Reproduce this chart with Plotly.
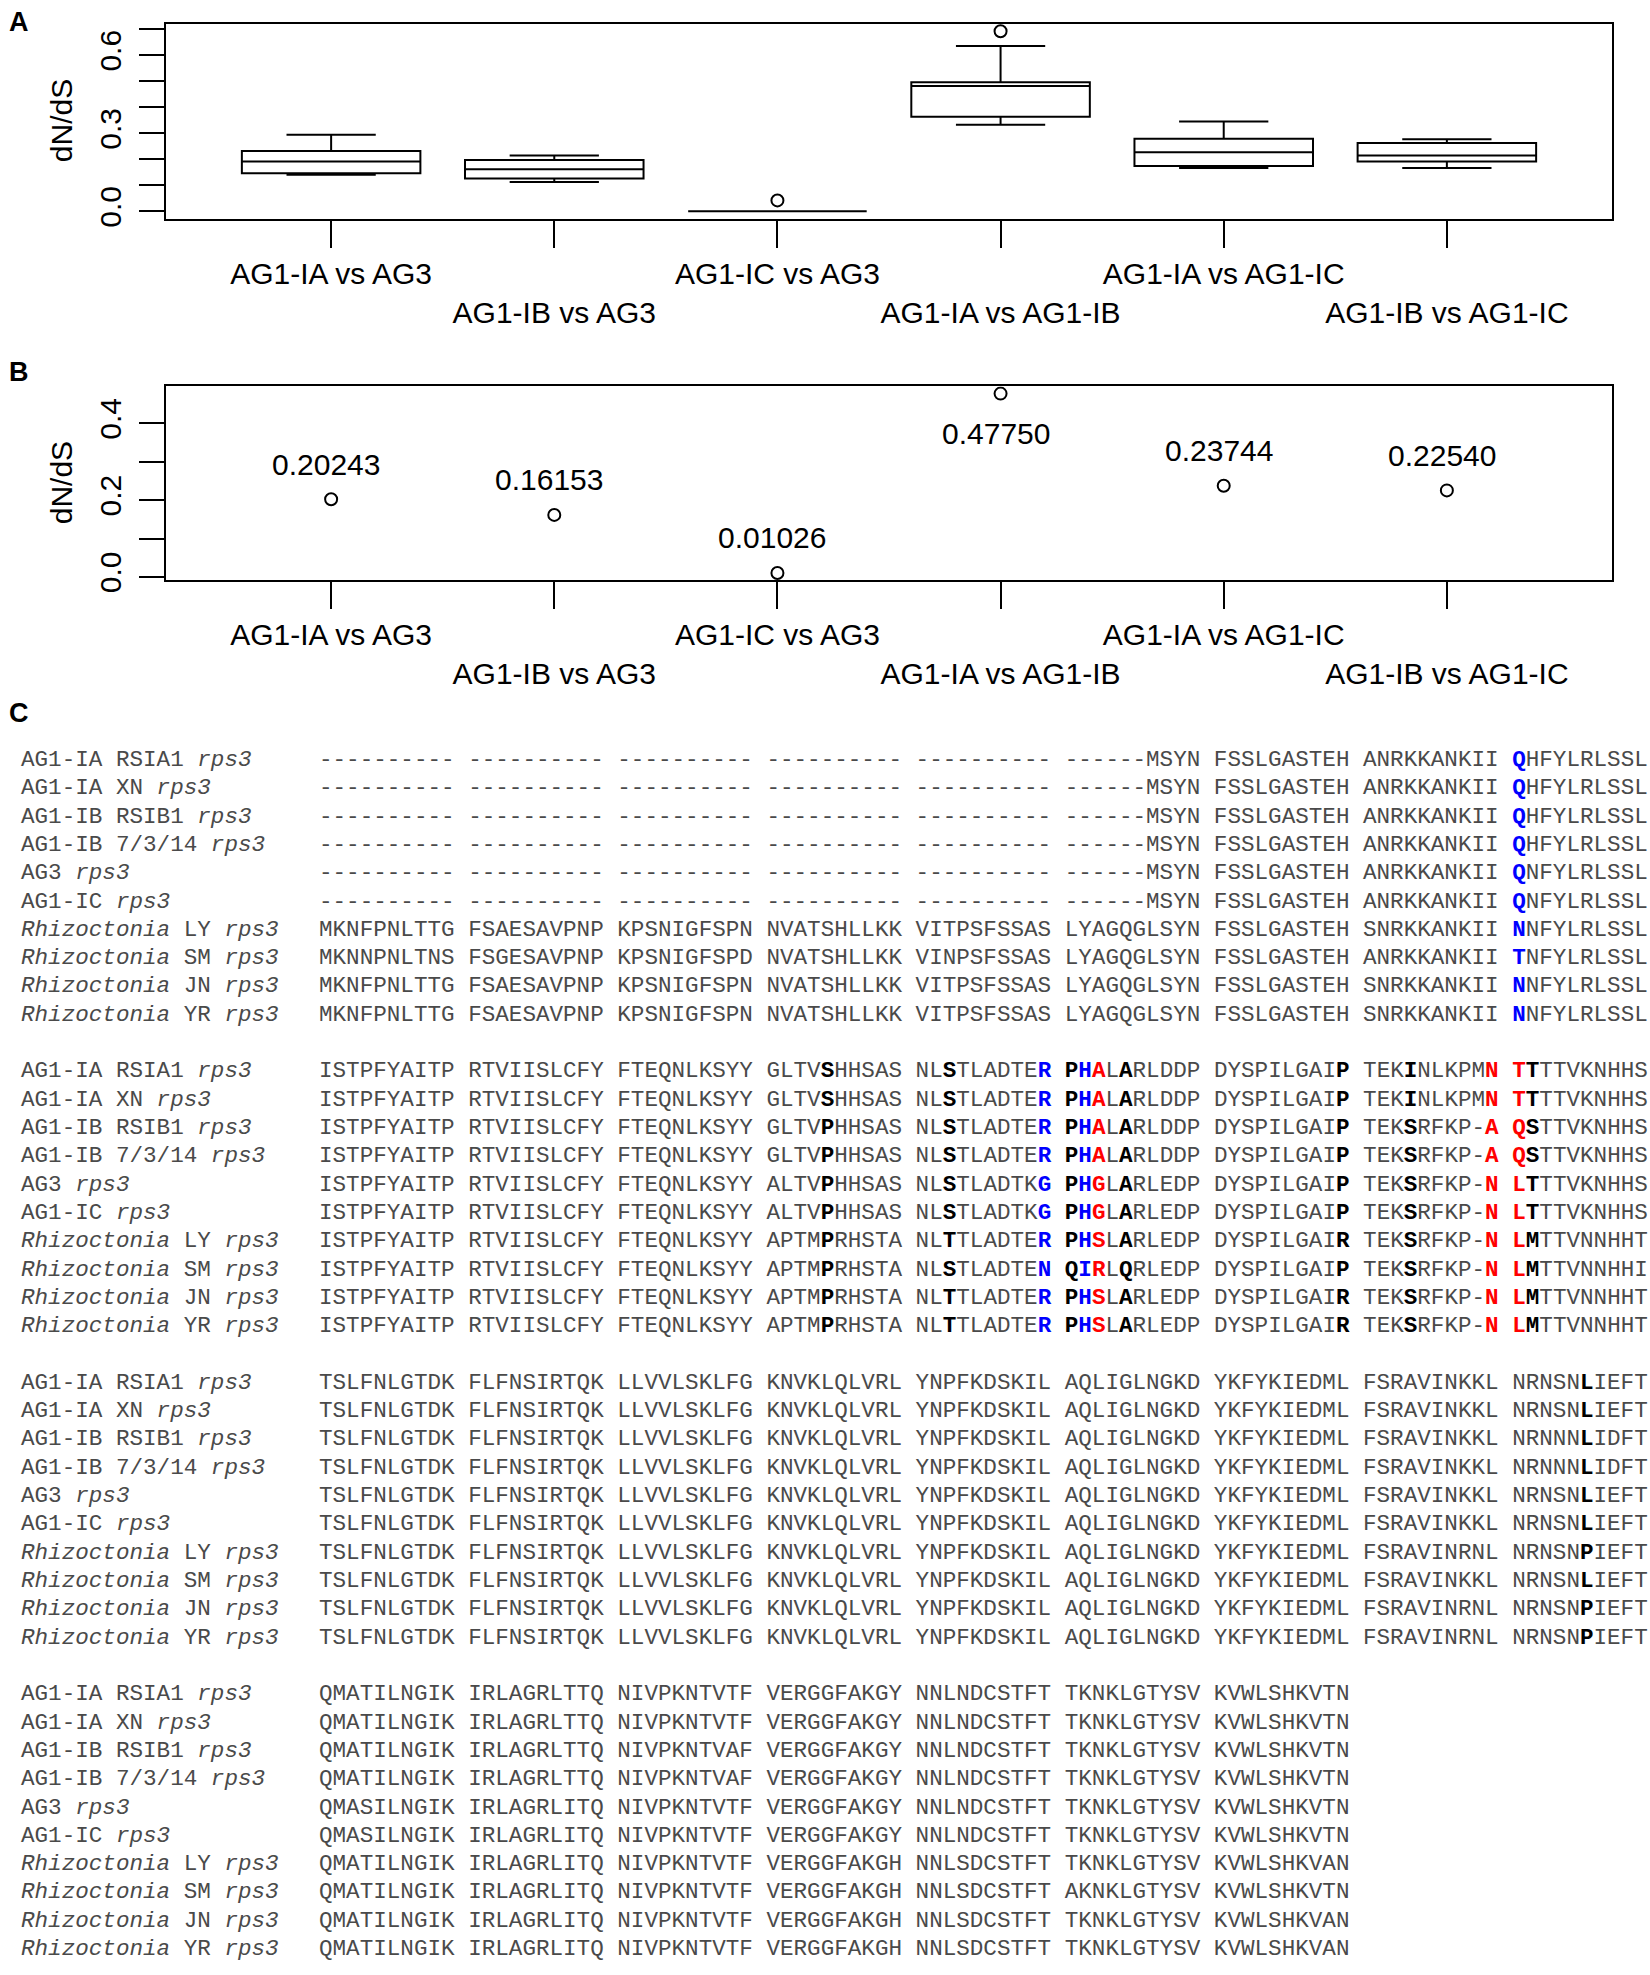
import plotly.graph_objects as go

W, H = 1650, 1975

# ---- panels A / B data -------------------------------------------------
pairs = ["AG1-IA vs AG3", "AG1-IB vs AG3", "AG1-IC vs AG3",
         "AG1-IA vs AG1-IB", "AG1-IA vs AG1-IC", "AG1-IB vs AG1-IC"]
pos = [1, 2, 3, 4, 5, 6]

# boxplot stats for panel A
box_low = [0.141, 0.113, 0.0, 0.333, 0.167, 0.167]
box_q1 = [0.146, 0.126, 0.0, 0.364, 0.174, 0.192]
box_med = [0.192, 0.162, 0.0, 0.482, 0.227, 0.215]
box_q3 = [0.232, 0.197, 0.0, 0.496, 0.279, 0.263]
box_high = [0.294, 0.215, 0.0, 0.636, 0.345, 0.277]
out_x = [3, 4]
out_y = [0.042, 0.692]

# panel B: overall dN/dS per pair
dnds = [0.20243, 0.16153, 0.01026, 0.47750, 0.23744, 0.22540]
dnds_txt = ["0.20243", "0.16153", "0.01026", "0.47750", "0.23744", "0.22540"]

yticks_a = [0.0, 0.1, 0.2, 0.3, 0.4, 0.5, 0.6, 0.7]
ylabels_a = ["0.0", "", "", "0.3", "", "", "0.6", ""]
yticks_b = [0.0, 0.1, 0.2, 0.3, 0.4]
ylabels_b = ["0.0", "", "0.2", "", "0.4"]

# ---- panel C: rps3 alignment -------------------------------------------
names = ["AG1-IA RSIA1", "AG1-IA XN", "AG1-IB RSIB1", "AG1-IB 7/3/14", "AG3", "AG1-IC",
         "Rhizoctonia LY", "Rhizoctonia SM", "Rhizoctonia JN", "Rhizoctonia YR"]

block1 = [
    "---------- ---------- ---------- ---------- ---------- ------MSYN FSSLGASTEH ANRKKANKII QHFYLRLSSL",
    "---------- ---------- ---------- ---------- ---------- ------MSYN FSSLGASTEH ANRKKANKII QHFYLRLSSL",
    "---------- ---------- ---------- ---------- ---------- ------MSYN FSSLGASTEH ANRKKANKII QHFYLRLSSL",
    "---------- ---------- ---------- ---------- ---------- ------MSYN FSSLGASTEH ANRKKANKII QHFYLRLSSL",
    "---------- ---------- ---------- ---------- ---------- ------MSYN FSSLGASTEH ANRKKANKII QNFYLRLSSL",
    "---------- ---------- ---------- ---------- ---------- ------MSYN FSSLGASTEH ANRKKANKII QNFYLRLSSL",
    "MKNFPNLTTG FSAESAVPNP KPSNIGFSPN NVATSHLLKK VITPSFSSAS LYAGQGLSYN FSSLGASTEH SNRKKANKII NNFYLRLSSL",
    "MKNNPNLTNS FSGESAVPNP KPSNIGFSPD NVATSHLLKK VINPSFSSAS LYAGQGLSYN FSSLGASTEH ANRKKANKII TNFYLRLSSL",
    "MKNFPNLTTG FSAESAVPNP KPSNIGFSPN NVATSHLLKK VITPSFSSAS LYAGQGLSYN FSSLGASTEH SNRKKANKII NNFYLRLSSL",
    "MKNFPNLTTG FSAESAVPNP KPSNIGFSPN NVATSHLLKK VITPSFSSAS LYAGQGLSYN FSSLGASTEH SNRKKANKII NNFYLRLSSL",
]
block2 = [
    "ISTPFYAITP RTVIISLCFY FTEQNLKSYY GLTVSHHSAS NLSTLADTER PHALARLDDP DYSPILGAIP TEKINLKPMN TTTTVKNHHS",
    "ISTPFYAITP RTVIISLCFY FTEQNLKSYY GLTVSHHSAS NLSTLADTER PHALARLDDP DYSPILGAIP TEKINLKPMN TTTTVKNHHS",
    "ISTPFYAITP RTVIISLCFY FTEQNLKSYY GLTVPHHSAS NLSTLADTER PHALARLDDP DYSPILGAIP TEKSRFKP-A QSTTVKNHHS",
    "ISTPFYAITP RTVIISLCFY FTEQNLKSYY GLTVPHHSAS NLSTLADTER PHALARLDDP DYSPILGAIP TEKSRFKP-A QSTTVKNHHS",
    "ISTPFYAITP RTVIISLCFY FTEQNLKSYY ALTVPHHSAS NLSTLADTKG PHGLARLEDP DYSPILGAIP TEKSRFKP-N LTTTVKNHHS",
    "ISTPFYAITP RTVIISLCFY FTEQNLKSYY ALTVPHHSAS NLSTLADTKG PHGLARLEDP DYSPILGAIP TEKSRFKP-N LTTTVKNHHS",
    "ISTPFYAITP RTVIISLCFY FTEQNLKSYY APTMPRHSTA NLTTLADTER PHSLARLEDP DYSPILGAIR TEKSRFKP-N LMTTVNNHHT",
    "ISTPFYAITP RTVIISLCFY FTEQNLKSYY APTMPRHSTA NLSTLADTEN QIRLQRLEDP DYSPILGAIP TEKSRFKP-N LMTTVNNHHI",
    "ISTPFYAITP RTVIISLCFY FTEQNLKSYY APTMPRHSTA NLTTLADTER PHSLARLEDP DYSPILGAIR TEKSRFKP-N LMTTVNNHHT",
    "ISTPFYAITP RTVIISLCFY FTEQNLKSYY APTMPRHSTA NLTTLADTER PHSLARLEDP DYSPILGAIR TEKSRFKP-N LMTTVNNHHT",
]
block3 = [
    "TSLFNLGTDK FLFNSIRTQK LLVVLSKLFG KNVKLQLVRL YNPFKDSKIL AQLIGLNGKD YKFYKIEDML FSRAVINKKL NRNSNLIEFT",
    "TSLFNLGTDK FLFNSIRTQK LLVVLSKLFG KNVKLQLVRL YNPFKDSKIL AQLIGLNGKD YKFYKIEDML FSRAVINKKL NRNSNLIEFT",
    "TSLFNLGTDK FLFNSIRTQK LLVVLSKLFG KNVKLQLVRL YNPFKDSKIL AQLIGLNGKD YKFYKIEDML FSRAVINKKL NRNNNLIDFT",
    "TSLFNLGTDK FLFNSIRTQK LLVVLSKLFG KNVKLQLVRL YNPFKDSKIL AQLIGLNGKD YKFYKIEDML FSRAVINKKL NRNNNLIDFT",
    "TSLFNLGTDK FLFNSIRTQK LLVVLSKLFG KNVKLQLVRL YNPFKDSKIL AQLIGLNGKD YKFYKIEDML FSRAVINKKL NRNSNLIEFT",
    "TSLFNLGTDK FLFNSIRTQK LLVVLSKLFG KNVKLQLVRL YNPFKDSKIL AQLIGLNGKD YKFYKIEDML FSRAVINKKL NRNSNLIEFT",
    "TSLFNLGTDK FLFNSIRTQK LLVVLSKLFG KNVKLQLVRL YNPFKDSKIL AQLIGLNGKD YKFYKIEDML FSRAVINRNL NRNSNPIEFT",
    "TSLFNLGTDK FLFNSIRTQK LLVVLSKLFG KNVKLQLVRL YNPFKDSKIL AQLIGLNGKD YKFYKIEDML FSRAVINKKL NRNSNLIEFT",
    "TSLFNLGTDK FLFNSIRTQK LLVVLSKLFG KNVKLQLVRL YNPFKDSKIL AQLIGLNGKD YKFYKIEDML FSRAVINRNL NRNSNPIEFT",
    "TSLFNLGTDK FLFNSIRTQK LLVVLSKLFG KNVKLQLVRL YNPFKDSKIL AQLIGLNGKD YKFYKIEDML FSRAVINRNL NRNSNPIEFT",
]
block4 = [
    "QMATILNGIK IRLAGRLTTQ NIVPKNTVTF VERGGFAKGY NNLNDCSTFT TKNKLGTYSV KVWLSHKVTN",
    "QMATILNGIK IRLAGRLTTQ NIVPKNTVTF VERGGFAKGY NNLNDCSTFT TKNKLGTYSV KVWLSHKVTN",
    "QMATILNGIK IRLAGRLTTQ NIVPKNTVAF VERGGFAKGY NNLNDCSTFT TKNKLGTYSV KVWLSHKVTN",
    "QMATILNGIK IRLAGRLTTQ NIVPKNTVAF VERGGFAKGY NNLNDCSTFT TKNKLGTYSV KVWLSHKVTN",
    "QMASILNGIK IRLAGRLITQ NIVPKNTVTF VERGGFAKGY NNLNDCSTFT TKNKLGTYSV KVWLSHKVTN",
    "QMASILNGIK IRLAGRLITQ NIVPKNTVTF VERGGFAKGY NNLNDCSTFT TKNKLGTYSV KVWLSHKVTN",
    "QMATILNGIK IRLAGRLITQ NIVPKNTVTF VERGGFAKGH NNLSDCSTFT TKNKLGTYSV KVWLSHKVAN",
    "QMATILNGIK IRLAGRLITQ NIVPKNTVTF VERGGFAKGH NNLSDCSTFT AKNKLGTYSV KVWLSHKVTN",
    "QMATILNGIK IRLAGRLITQ NIVPKNTVTF VERGGFAKGH NNLSDCSTFT TKNKLGTYSV KVWLSHKVAN",
    "QMATILNGIK IRLAGRLITQ NIVPKNTVTF VERGGFAKGH NNLSDCSTFT TKNKLGTYSV KVWLSHKVAN",
]
blocks = [block1, block2, block3, block4]

# highlighted alignment columns per block: (column index in line, colour)
marks = [
    [(88, "blue")],
    [(37, "black"), (46, "black"), (53, "blue"), (55, "black"), (56, "blue"),
     (57, "red"), (59, "black"), (75, "black"), (80, "black"), (86, "red"),
     (88, "red"), (89, "black")],
    [(93, "black")],
    [],
]
colours = {"blue": "#0000ff", "red": "#ff0000", "black": "#000000"}

SANS = "Liberation Sans, Arial, sans-serif"
MONO = "Liberation Mono, Courier New, monospace"
TXT = "#4a4a4a"
FS = 30


def ypx(px):
    return 1 - px / H


fig = go.Figure()

# panel A
fig.add_trace(go.Box(
    x=pos, q1=box_q1, median=box_med, q3=box_q3,
    lowerfence=box_low, upperfence=box_high,
    width=0.8, whiskerwidth=0.5, boxpoints=False,
    line=dict(color="black", width=2), fillcolor="white",
    xaxis="x", yaxis="y", showlegend=False))
fig.add_trace(go.Scatter(
    x=out_x, y=out_y, mode="markers",
    marker=dict(symbol="circle-open", size=12, color="black", line=dict(width=2)),
    xaxis="x", yaxis="y", showlegend=False))

# panel B
fig.add_trace(go.Scatter(
    x=pos, y=dnds, mode="markers",
    marker=dict(symbol="circle-open", size=12, color="black", line=dict(width=2)),
    xaxis="x2", yaxis="y2", showlegend=False))

# two-row labels under the axis (alternate ones pushed down a line)
xtext = [p if i % 2 == 0 else "<br>" + p for i, p in enumerate(pairs)]

xdom = [166 / W, 1612 / W]
xax = dict(range=[0.26, 6.74], tickvals=pos, ticktext=xtext, ticks="outside", tickangle=0,
           ticklen=27, tickwidth=1.5, tickcolor="black", showline=True, mirror=True,
           linewidth=2, linecolor="black", showgrid=False, zeroline=False,
           tickfont=dict(family=SANS, size=FS, color="black"), domain=xdom)
yax = dict(ticks="outside", ticklen=25, tickwidth=2, tickcolor="black", tickangle=-90,
           showline=True, mirror=True, linewidth=2, linecolor="black",
           showgrid=False, zeroline=False, ticklabelstandoff=6,
           tickfont=dict(family=SANS, size=FS, color="black"))

fig.update_layout(
    width=W, height=H, margin=dict(l=0, r=0, t=0, b=0),
    paper_bgcolor="white", plot_bgcolor="white",
    xaxis=dict(xax, anchor="y"),
    yaxis=dict(yax, anchor="x", domain=[ypx(220), ypx(24)],
               range=[-0.0277, 0.7207], tickvals=yticks_a, ticktext=ylabels_a),
    xaxis2=dict(xax, anchor="y2"),
    yaxis2=dict(yax, anchor="x2", domain=[ypx(584), ypx(389)],
                range=[-0.0084, 0.4962], tickvals=yticks_b, ticktext=ylabels_b),
)

ann = []
for letter, yy in [("A", 22), ("B", 374), ("C", 718)]:
    ann.append(dict(text="<b>" + letter + "</b>", x=19 / W, y=ypx(yy), xref="paper", yref="paper",
                    showarrow=False, xanchor="center", yanchor="middle",
                    font=dict(family=SANS, size=27, color="black")))
for yref in ["y domain", "y2 domain"]:
    ann.append(dict(text="dN/dS", x=61 / W, y=0.5, xref="paper", yref=yref, textangle=-90,
                    showarrow=False, xanchor="center", yanchor="middle",
                    font=dict(family=SANS, size=FS, color="black")))

# value labels in panel B (the top one goes under its point)
top = max(dnds)
for p, v, t in zip(pos, dnds, dnds_txt):
    ann.append(dict(text=t, x=p, y=v, xref="x2", yref="y2", showarrow=False,
                    xshift=-5, yshift=-40 if v == top else 35,
                    font=dict(family=SANS, size=FS, color="black")))

# alignment
for b, block in enumerate(blocks):
    hl = dict(marks[b])
    for i, seq in enumerate(block):
        ycen = 765 + (b * 11 + i) * 28.5
        nm = names[i]
        if nm.startswith("Rhizoctonia"):
            nm = "<i>Rhizoctonia</i>" + nm[len("Rhizoctonia"):]
        nm += " <i>rps3</i>"
        ann.append(dict(text=nm, x=20 / W, y=ypx(ycen), xref="paper", yref="paper",
                        showarrow=False, xanchor="left", yanchor="middle", borderpad=0,
                        font=dict(family=MONO, size=22.6, color=TXT)))
        parts = []
        for k, ch in enumerate(seq):
            if k in hl:
                parts.append("<b><span style='color:%s'>%s</span></b>" % (colours[hl[k]], ch))
            else:
                parts.append(ch)
        ann.append(dict(text="".join(parts), x=318 / W, y=ypx(ycen), xref="paper", yref="paper",
                        showarrow=False, xanchor="left", yanchor="middle", borderpad=0,
                        font=dict(family=MONO, size=22.6, color=TXT)))

fig.update_layout(annotations=ann)
fig.write_html("out.html", config={"displayModeBar": False},
               post_script="document.body.style.margin='0';document.body.style.overflow='hidden';")
